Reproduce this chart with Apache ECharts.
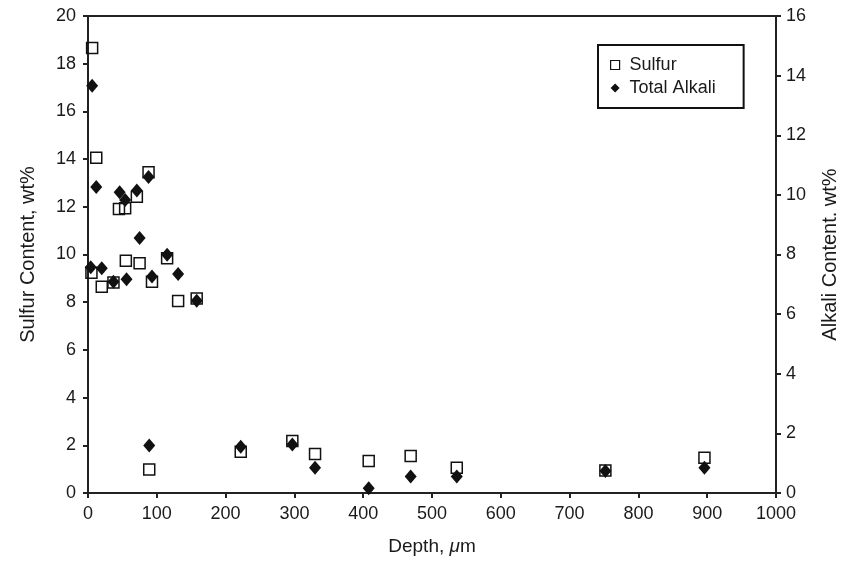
<!DOCTYPE html>
<html><head><meta charset="utf-8">
<script src="https://cdn.jsdelivr.net/npm/echarts@6/dist/echarts.min.js"></script>
<style>html,body{margin:0;padding:0;background:#fff}#c{width:848px;height:571px}</style>
</head><body><div id="c"></div>
<script>
const sulfurDepth = [6,12,88,45,54,71,55,75,115,5,20,37,93,131,158,89,222,297,330,408,469,536,752,896];
const sulfurValue = [18.66,14.06,13.45,11.91,11.94,12.42,9.74,9.63,9.84,9.24,8.65,8.83,8.86,8.05,8.16,0.99,1.73,2.18,1.64,1.34,1.55,1.06,0.94,1.48];
const alkaliDepth = [6,12,46,54,71,88,75,115,4,20,37,56,93,131,158,89,222,297,330,408,469,536,752,896];
const alkaliValue = [13.66,10.26,10.09,9.83,10.15,10.6,8.55,7.99,7.57,7.54,7.09,7.17,7.26,7.35,6.45,1.59,1.55,1.63,0.85,0.16,0.55,0.55,0.74,0.85];
const xTicks = {min:0,max:1000,interval:100};
const leftTicks = {min:0,max:20,interval:2};
const rightTicks = {min:0,max:16,interval:2};

const font = 'Liberation Sans, Arial, sans-serif';
const txt = '#1a1a1a';
const chart = echarts.init(document.getElementById('c'));
const axisLine = {show:true,lineStyle:{color:'#222',width:2}};
const tick = {show:true,length:5,lineStyle:{color:'#222',width:2}};
chart.setOption({
  animation:false,
  backgroundColor:'#fff',
  grid:{left:88,right:70,top:16,bottom:78,show:true,borderColor:'#222',borderWidth:2},
  legend:{
    orient:'vertical',left:598,top:45,
    borderColor:'#111',borderWidth:2,padding:[11,28,11,12],
    itemWidth:9,itemHeight:9,itemGap:5,
    textStyle:{fontFamily:font,fontSize:18,color:txt,padding:[0,0,0,5]},
    data:[
      {name:'Sulfur',icon:'rect',itemStyle:{color:'#fff',borderColor:'#111',borderWidth:1.2}},
      {name:'Total Alkali',icon:'diamond',itemStyle:{color:'#111'}}
    ]
  },
  xAxis:{type:'value',min:xTicks.min,max:xTicks.max,interval:xTicks.interval,
    name:'Depth, {i|\u03bc}m',nameLocation:'middle',nameGap:44,
    nameTextStyle:{fontFamily:font,fontSize:19,color:txt,
      rich:{i:{fontFamily:font,fontSize:19,fontStyle:'italic',color:txt}}},
    axisLine:axisLine,axisTick:tick,
    axisLabel:{fontFamily:font,fontSize:18,color:txt,margin:12,formatter:v=>String(v)},
    splitLine:{show:false}},
  yAxis:[
    {type:'value',min:leftTicks.min,max:leftTicks.max,interval:leftTicks.interval,position:'left',
     name:'Sulfur Content, wt%',nameLocation:'middle',nameGap:50,
     nameTextStyle:{fontFamily:font,fontSize:20,color:txt},
     axisLine:axisLine,axisTick:tick,
     axisLabel:{fontFamily:font,fontSize:18,color:txt,margin:12},
     splitLine:{show:false}},
    {type:'value',min:rightTicks.min,max:rightTicks.max,interval:rightTicks.interval,position:'right',
     name:'Alkali Content. wt%',nameLocation:'middle',nameGap:44,nameRotate:90,
     nameTextStyle:{fontFamily:font,fontSize:20,color:txt},
     axisLine:axisLine,axisTick:tick,
     axisLabel:{fontFamily:font,fontSize:18,color:txt,margin:10},
     splitLine:{show:false}}
  ],
  series:[
    {name:'Sulfur',type:'scatter',yAxisIndex:0,symbol:'rect',symbolSize:11,
     itemStyle:{color:'rgba(255,255,255,0)',borderColor:'#111',borderWidth:1.5,opacity:1},
     data:sulfurDepth.map((d,i)=>[d,sulfurValue[i]])},
    {name:'Total Alkali',type:'scatter',yAxisIndex:1,symbol:'diamond',symbolSize:[12,14],
     itemStyle:{color:'#111',opacity:1},
     data:alkaliDepth.map((d,i)=>[d,alkaliValue[i]])}
  ]
});
</script></body></html>
